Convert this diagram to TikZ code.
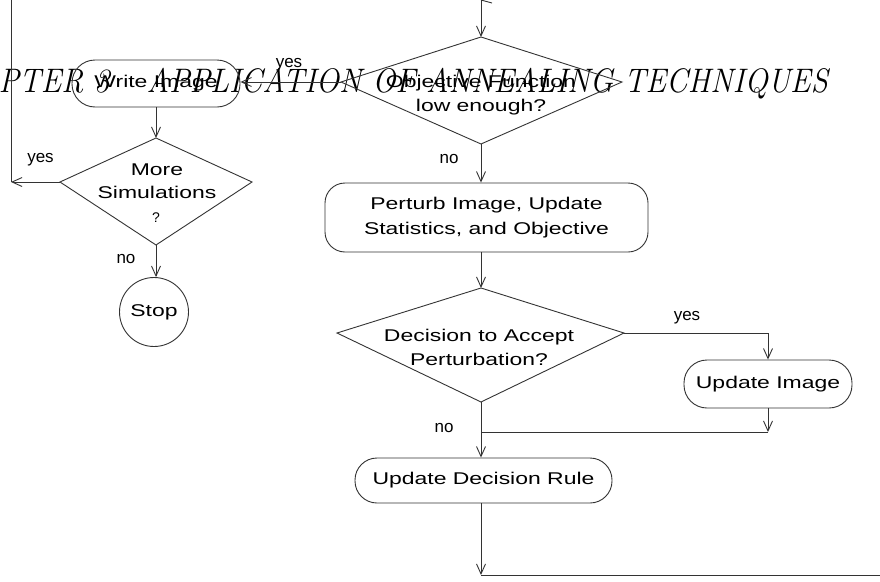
\documentclass[tikz,border=0pt]{standalone}
\usepackage{fontspec}
\usetikzlibrary{arrows.meta}
\newfontfamily\boxfont[FakeStretch=1.35]{Liberation Sans}
\newfontfamily\lblfont{Liberation Sans}
\newfontfamily\hdrfont[FakeStretch=0.91]{Latin Modern Roman}
\tikzset{
  ln/.style={draw=black!80, line width=0.9pt},
  arr/.style={ln, -{Straight Barb[length=10pt,width=9pt]}},
  txt/.style={font=\boxfont\fontsize{17}{24}\selectfont, align=center, inner sep=0pt},
  procbox/.style={txt, ln, rounded corners=#1},
  lbl/.style={font=\lblfont\fontsize{17}{20}\selectfont, inner sep=0pt, anchor=base},
}
\begin{document}
\begin{tikzpicture}[x=1pt,y=-1pt]
\useasboundingbox[fill=white] (0,0) rectangle (880,581);

% running header of the page
\node[font=\hdrfont\itshape\fontsize{34}{40}\selectfont, anchor=base east, inner sep=0pt] (hdr) at (828,92) {PTER 3\hspace{37pt}APPLICATION OF ANNEALING TECHNIQUES};

% diamond: Objective Function low enough?
\coordinate (objT) at (481,37);
\coordinate (objR) at (622,82);
\coordinate (objB) at (481,144);
\coordinate (objL) at (341,82);
\draw[ln] (objT) -- (objR) -- (objB) -- (objL) -- cycle;
\node[txt] (obj) at (481,95.6) {Objective Function\\low enough?};

% Write Image
\node[procbox=23, minimum width=168, minimum height=47] (write) at (156,83.5) {Write Image};

% diamond: More Simulations ?
\coordinate (simT) at (156,138);
\coordinate (simR) at (252,182);
\coordinate (simB) at (156,245);
\coordinate (simL) at (60,182);
\draw[ln] (simT) -- (simR) -- (simB) -- (simL) -- cycle;
\node[txt, font=\boxfont\fontsize{17}{23}\selectfont] (sim) at (157,181) {More\\Simulations};
\node[lbl, font=\lblfont\fontsize{14}{16}\selectfont] (simq) at (156,222) {?};

% Stop
\node[txt, ln, circle, minimum size=69] (stop) at (154,312) {Stop};

% Perturb
\node[procbox=20, minimum width=323, minimum height=69, font=\boxfont\fontsize{17}{25}\selectfont] (perturb) at (486.5,217.5) {Perturb Image, Update\\Statistics, and Objective};

% diamond: Decision to Accept Perturbation?
\coordinate (decT) at (481,288);
\coordinate (decR) at (624,333);
\coordinate (decB) at (481,402);
\coordinate (decL) at (337,333);
\draw[ln] (decT) -- (decR) -- (decB) -- (decL) -- cycle;
\node[txt] (dec) at (479,347) {Decision to Accept\\Perturbation?};

% Update Image
\node[procbox=23, minimum width=168, minimum height=48] (upd) at (768,384) {Update Image};

% Update Decision Rule
\node[procbox=22, minimum width=257, minimum height=45] (udr) at (483.5,480.5) {Update Decision Rule};

% connectors
\coordinate (topin) at (481,0);
\coordinate (topt) at (492,3);
\draw[arr] (topin) -- (objT);
\draw[ln] (topin) -- (topt);

\draw[arr] (objL) -- (objL -| write.east);
\node[lbl] (l1) at (289,67) {yes};

\draw[arr] (write.south) -- (simT);

\coordinate (lc) at (11,182);
\coordinate (ltop) at (11,0);
\draw[arr] (simL) -- (lc);
\draw[ln] (lc) -- (ltop);
\node[lbl] (l2) at (40.5,162) {yes};

\draw[arr] (simB) -- (simB |- stop.north);
\node[lbl] (l3) at (126,263) {no};

\draw[arr] (objB) -- (objB |- perturb.north);
\node[lbl] (l4) at (449,163) {no};

\draw[arr] (decT |- perturb.south) -- (decT);

\coordinate (c1) at (768,333);
\draw[arr] (decR) -- (c1) -- (upd.north);
\node[lbl] (l5) at (687,320) {yes};

\coordinate (j1) at (768,432);
\coordinate (j2) at (481,432);
\draw[arr] (upd.south) -- (j1);
\draw[ln] (j1) -- (j2);

\draw[arr] (decB) -- (decB |- udr.north);
\node[lbl] (l6) at (444,432) {no};

\coordinate (b1) at (481,575);
\coordinate (b2) at (880,575);
\draw[arr] (decB |- udr.south) -- (b1);
\draw[ln] (b1) -- (b2);
\end{tikzpicture}
\end{document}
